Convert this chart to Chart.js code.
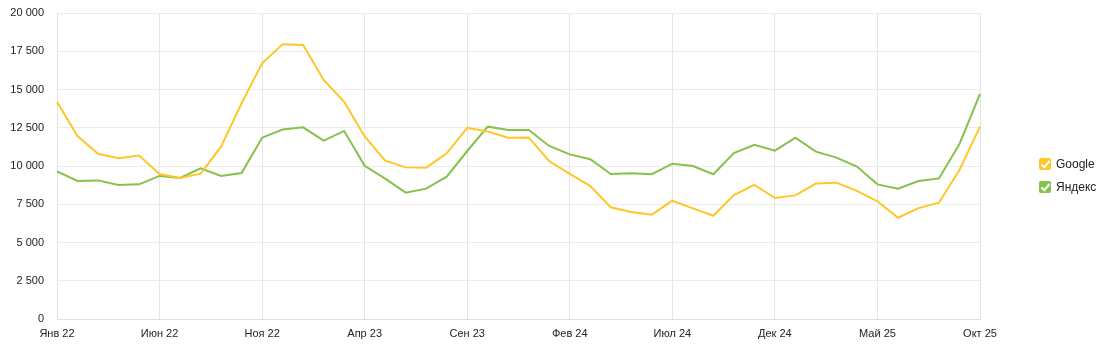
<!DOCTYPE html>
<html>
<head>
<meta charset="utf-8">
<script src="https://cdn.jsdelivr.net/npm/chart.js@4.4.1/dist/chart.umd.min.js"></script>
<style>
    html, body { margin: 0; padding: 0; background: #fff; }
    #wrap { position: relative; width: 1109px; height: 352px; }
    #legend { position: absolute; left: 1039px; top: 158px; font: 12px "Liberation Sans", Arial, sans-serif; color: #222; }
    #legend .item { height: 12px; line-height: 12px; margin-bottom: 11px; white-space: nowrap; }
    #legend .box { display: inline-block; width: 12px; height: 12px; border-radius: 2px; vertical-align: top; position: relative; margin-right: 5px; }
    #legend .box:after { content: ""; position: absolute; left: 4px; top: 1px; width: 3px; height: 7px; border: solid #fff; border-width: 0 2px 2px 0; transform: rotate(40deg); }
</style>
</head>
<body>
<div id="wrap">
    <canvas id="chart" width="1109" height="352"></canvas>
    <div id="legend"></div>
</div>
<script>
    "use strict";

    var months = ["Янв", "Фев", "Мар", "Апр", "Май", "Июн", "Июл", "Авг", "Сен", "Окт", "Ноя", "Дек"];
    var labels = [];
    for (var y = 22; y <= 25; y++) {
        for (var m = 0; m < 12; m++) {
            if (y === 25 && m > 9) break;
            labels.push(months[m] + " " + y);
        }
    }

    var google = [14200, 11960, 10800, 10500, 10680, 9480, 9220, 9500, 11260, 14100,
        16710, 17950, 17910, 15620, 14200, 11930, 10350, 9910, 9890, 10830,
        12500, 12250, 11850, 11870, 10310, 9480, 8690, 7300, 6990, 6820,
        7730, 7230, 6750, 8100, 8760, 7910, 8080, 8850, 8910, 8370,
        7690, 6620, 7250, 7600, 9740, 12570];

    var yandex = [9650, 9020, 9060, 8760, 8800, 9350, 9220, 9850, 9350, 9540,
        11850, 12380, 12530, 11660, 12290, 10010, 9170, 8260, 8520, 9300,
        10980, 12570, 12350, 12350, 11310, 10760, 10440, 9480, 9520, 9460,
        10150, 10000, 9460, 10850, 11390, 11000, 11850, 10940, 10550, 9960,
        8800, 8520, 9020, 9190, 11440, 14710];

    var seriesNames = ["Google", "Яндекс"];
    var seriesColors = ["#ffc628", "#86c14b"];

    var fontFamily = '"Liberation Sans", Arial, sans-serif';

    // Legend (HTML, checkbox style)
    var legend = document.getElementById('legend');
    seriesNames.forEach(function(name, i) {
        var item = document.createElement('div');
        item.className = 'item';
        item.innerHTML = '<span class="box" style="background:' + seriesColors[i] + '"></span>' + name;
        legend.appendChild(item);
    });

    var ctx = document.getElementById('chart');
    var myChart = new Chart(ctx, {
        type: 'line',
        data: {
            labels: labels,
            datasets: [
                {
                    label: seriesNames[0],
                    data: google,
                    borderColor: seriesColors[0],
                    backgroundColor: seriesColors[0],
                    borderWidth: 2,
                    pointRadius: 0,
                    tension: 0
                },
                {
                    label: seriesNames[1],
                    data: yandex,
                    borderColor: seriesColors[1],
                    backgroundColor: seriesColors[1],
                    borderWidth: 2,
                    pointRadius: 0,
                    tension: 0
                }
            ]
        },
        options: {
            responsive: false,
            animation: false,
            layout: {
                padding: { left: 0, right: 129, top: 13, bottom: 0 }
            },
            plugins: {
                legend: { display: false },
                tooltip: { enabled: false }
            },
            scales: {
                x: {
                    offset: false,
                    grid: {
                        drawTicks: false,
                        color: function(c) {
                            return c.index % 5 === 0 ? '#e6e6e6' : 'rgba(0,0,0,0)';
                        }
                    },
                    border: { color: '#e0e0e0' },
                    ticks: {
                        autoSkip: false,
                        maxRotation: 0,
                        padding: 8,
                        color: '#222',
                        font: { family: fontFamily, size: 11 },
                        callback: function(value, index) {
                            return index % 5 === 0 ? labels[index] : '';
                        }
                    },
                    afterFit: function(scale) {
                        scale.height = 33;
                    }
                },
                y: {
                    min: 0,
                    max: 20000,
                    grid: {
                        drawTicks: true,
                        tickLength: 10,
                        tickColor: 'rgba(0,0,0,0)',
                        color: '#ececec'
                    },
                    border: { color: '#e0e0e0' },
                    ticks: {
                        stepSize: 2500,
                        padding: 3,
                        color: '#222',
                        font: { family: fontFamily, size: 11 },
                        callback: function(value) {
                            return String(value).replace(/\B(?=(\d{3})+(?!\d))/g, ' ');
                        }
                    },
                    afterFit: function(scale) {
                        scale.width = 57;
                    }
                }
            }
        }
    });
</script>
</body>
</html>
